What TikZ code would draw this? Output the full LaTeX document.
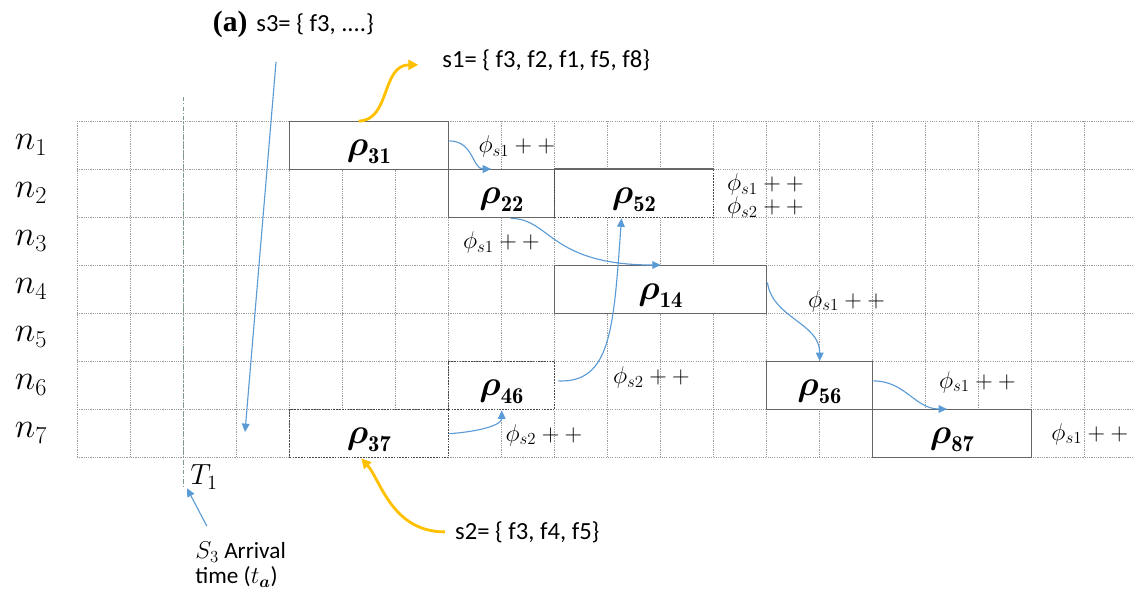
\documentclass[tikz,border=0pt]{standalone}
\usepackage{amsmath,amssymb}
\usepackage{fontspec}
\usepackage{xcolor}
\usepackage{tikz}
\usetikzlibrary{arrows.meta,positioning,calc}
\newfontfamily\labelfont{Carlito}
\newfontfamily\tagfont{Liberation Serif}
\definecolor{gridgray}{HTML}{9C9C9C}
\definecolor{boxgray}{HTML}{666666}
\definecolor{linkblue}{HTML}{5B9BD5}
\definecolor{setyellow}{HTML}{FFC000}
\definecolor{timegreen}{HTML}{7C9C88}
\newcommand{\rh}[1]{$\boldsymbol{\rho}_{\mathbf{#1}}$}
\newcommand{\ph}[1]{$\phi_{s#1} + +$}

\begin{document}
\begin{tikzpicture}[x=1.325cm, y=-1.2cm,
  gridline/.style={gridgray, line width=0.7pt, dash pattern=on 0.8pt off 0.8pt},
  slot/.style={draw=boxgray, fill=white, line width=1pt, anchor=north west, inner sep=0pt, minimum width=#1*1.325cm, minimum height=1.2cm, text height=14pt, text depth=0pt, font=\fontsize{23}{23}\selectfont},
  slotdot/.style={slot=#1, draw=boxgray!70!black, dash pattern=on 1.2pt off 0.8pt},
  rowlab/.style={inner sep=0pt, font=\fontsize{24}{24}\selectfont},
  cnt/.style={anchor=west, inner sep=0pt, font=\fontsize{17}{17}\selectfont},
  settext/.style={anchor=west, inner sep=0pt, font=\labelfont\fontsize{17.5}{18}\selectfont},
  link/.style={linkblue, line width=0.8pt, -{Triangle[length=6pt,width=5.5pt]}},
  setlink/.style={setyellow, line width=2pt, -{Triangle[length=7pt,width=7pt]}}]
  \useasboundingbox (-1.4528,-2.5208) rectangle (19.943,9.875);

  \foreach \col in {0,...,19} \draw[gridline] (\col,0) -- (\col,7);
  \foreach \row in {0,...,7} \draw[gridline] (0,\row) -- (19.943,\row);
  \draw[timegreen, line width=0.7pt, dash pattern=on 3pt off 1.5pt on 0.8pt off 1.5pt] (2,-0.5) -- (2,7.6);

  \foreach \row in {1,...,7} \node[rowlab] (n\row) at (-0.868,\row-0.5) {$n_{\row}$};

  \node[slot=3] (r31) at (4,0) {\rh{31}};
  \node[slot=2] (r22) at (7,1) {\rh{22}};
  \node[slotdot=3] (r52) at (9,1) {\rh{52}};
  \draw[boxgray, line width=1pt] (r52.north west) -- (r52.north east);
  \node[slot=4] (r14) at (9,3) {\rh{14}};
  \node[slotdot=2] (r46) at (7,5) {\rh{46}};
  \node[slotdot=3] (r37) at (4,6) {\rh{37}};
  \node[slot=2] (r56) at (13,5) {\rh{56}};
  \node[slot=3] (r87) at (15,6) {\rh{87}};

  \node[cnt] (c1) at (7.57,0.54) {\ph{1}};
  \node[cnt] (c2) at (12.26,1.33) {\ph{1}};
  \node[cnt] (c3) at (12.26,1.81) {\ph{2}};
  \node[cnt] (c4) at (7.28,2.54) {\ph{1}};
  \node[cnt] (c5) at (13.79,3.75) {\ph{1}};
  \node[cnt] (c6) at (10.11,5.35) {\ph{2}};
  \node[cnt] (c7) at (16.26,5.44) {\ph{1}};
  \node[cnt] (c8) at (8.08,6.54) {\ph{2}};
  \node[cnt] (c9) at (18.38,6.52) {\ph{1}};

  \node[inner sep=0pt, font=\tagfont\bfseries\fontsize{21}{21}\selectfont] (tag) at (2.89,-2.02) {(a)};
  \node[settext, right=6pt of tag] (s3) {s3= \{ f3, ....\}};
  \node[settext] (s1) at (6.89,-1.27) {s1= \{ f3, f2, f1, f5, f8\}};
  \node[settext] (s2) at (7.13,8.56) {s2= \{ f3, f4, f5\}};
  \node[inner sep=0pt, font=\fontsize{20}{20}\selectfont] (t1) at (2.396,7.42) {$T_1$};
  \node[settext, align=left, font=\labelfont\fontsize{16.5}{18}\selectfont] (arr) at (2.23,9.24) {$S_3$ Arrival\\time ($t_{\boldsymbol{a}}$)};

  \coordinate (s3foot) at (3.755,-1.23);
  \coordinate (s3hit) at (3.17,6.48);
  \coordinate (tafoot) at (2.45,8.44);
  \coordinate (tahit) at (2.075,7.65);

  \draw[link] (s3foot) -- (s3hit);
  \draw[link] (tafoot) -- (tahit);
  \draw[link] ($(r31.east)+(0,-0.1)$) .. controls +(0.45,0) and +(-0.35,0) .. ($(r22.north)+(-0.2,0)$);
  \draw[link] ($(r22.south)+(0.17,0)$) .. controls +(0.75,0) and +(-2.1,0) .. (r14.north);
  \draw[link] ($(r46.east)+(0.05,-0.1)$) .. controls +(1.0,0.05) and +(-0.15,2.3) .. ($(r52.south)+(-0.24,0)$);
  \draw[link] (r37.east) .. controls +(0.6,-0.05) and +(0,0.3) .. (r46.south);
  \draw[link] ($(r14.east)+(0,-0.15)$) .. controls +(0.1,0.75) and +(0,-0.8) .. (r56.north);
  \draw[link] ($(r56.east)+(0,-0.1)$) .. controls +(0.6,0) and +(-0.6,0) .. ($(r87.north)+(-0.1,0)$);
  \draw[setlink] ($(r31.north)+(-0.2,0)$) .. controls +(0.6,0) and +(-0.7,0) .. ($(s1.west)+(-0.45,0.1)$);
  \draw[setlink] ($(s2.west)+(-0.19,0)$) .. controls +(-1.0,0) and +(0.36,0.44) .. ($(r37.south)+(-0.15,0)$);
\end{tikzpicture}
\end{document}
